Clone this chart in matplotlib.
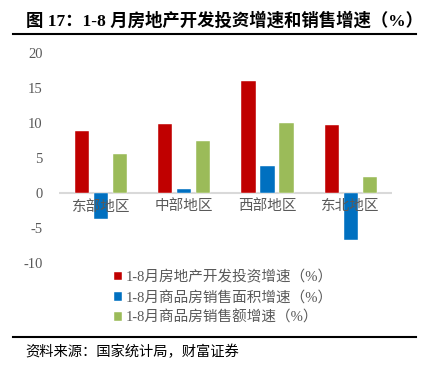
import matplotlib
matplotlib.use("Agg")
import matplotlib.pyplot as plt
import numpy as np

FONTS = ["Liberation Serif", "Noto Sans CJK SC"]

regions = ["东部地区", "中部地区", "西部地区", "东北地区"]
invest_growth = [8.9, 9.9, 16.1, 9.8]
area_growth = [-3.6, 0.6, 3.9, -6.6]
amount_growth = [5.6, 7.5, 10.0, 2.4]
series_names = [
	"1-8月房地产开发投资增速（%）",
	"1-8月商品房销售面积增速（%）",
	"1-8月商品房销售额增速（%）",
]
colors = ["#C00000", "#0070C0", "#9BBB59"]
yticks = [-10, -5, 0, 5, 10, 15, 20]

plt.rcParams["font.family"] = FONTS

fig = plt.figure(figsize=(4.26, 3.83), dpi=100)
ax = fig.add_axes([0.139, 0.3125, 0.782, 0.548])

x = np.arange(len(regions))
width = 0.172
step = 0.228
handles = []
for i, (vals, color) in enumerate(zip([invest_growth, area_growth, amount_growth], colors)):
	bars = ax.bar(x + (i - 1) * step, vals, width, color=color, zorder=2,
		edgecolor="white", linewidth=0.3)
	handles.append(bars)

ax.set_xlim(-0.5, len(regions) - 0.5)
ax.set_ylim(-10, 20)
ax.set_yticks(yticks)
ax.set_yticklabels([str(t) for t in yticks], color="#595959", fontsize=10.5)
ax.tick_params(axis="y", length=0, pad=12)
ax.tick_params(axis="x", length=0)
ax.set_xticks([])
for side in ["top", "right", "left", "bottom"]:
	ax.spines[side].set_visible(False)
ax.axhline(0, color="#D9D9D9", linewidth=1.5, zorder=1)

for xi, name in zip(x, regions):
	ax.text(xi, -0.9, name, ha="center", va="top", color="#595959",
		fontsize=10.5, zorder=3)

leg = fig.legend(handles, series_names, loc="upper left",
	bbox_to_anchor=(0.255, 0.31), frameon=False, fontsize=10.5,
	handlelength=0.55, handleheight=0.55, handletextpad=0.2,
	labelspacing=0.42, borderaxespad=0)
for t in leg.get_texts():
	t.set_color("#595959")

fig.text(0.061, 0.945, "图 17：1-8 月房地产开发投资增速和销售增速（%）",
	fontsize=12.5, fontweight="bold", ha="left", va="center")
fig.add_artist(plt.Line2D([0.03, 0.977], [0.911, 0.911], color="black", linewidth=1.5))
fig.add_artist(plt.Line2D([0.03, 0.977], [0.121, 0.121], color="black", linewidth=1.5))
fig.text(0.059, 0.082, "资料来源：国家统计局，财富证券", fontsize=10.3,
	style="italic", ha="left", va="center")

fig.savefig("out.png", dpi=100)
